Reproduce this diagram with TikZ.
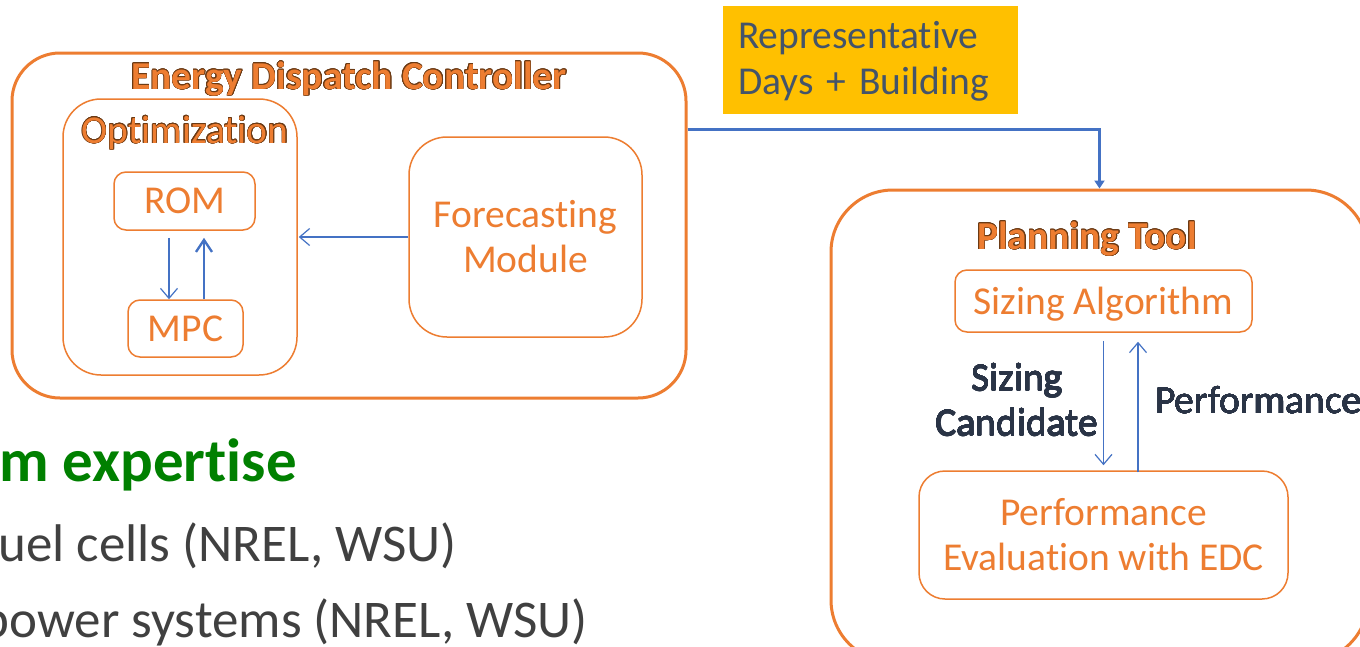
\documentclass[tikz,border=0pt]{standalone}
\usepackage{fontspec}
\setmainfont{Carlito}[Ligatures=NoCommon]
\usepackage[copies]{contour}
\usetikzlibrary{arrows.meta}
\definecolor{orng}{HTML}{ED7D31}
\definecolor{blu}{HTML}{4472C4}
\definecolor{yel}{HTML}{FFC000}
\definecolor{slate}{HTML}{44546A}
\definecolor{navy}{HTML}{2A3446}
\definecolor{grn}{HTML}{008000}
\definecolor{gry}{HTML}{404040}
\definecolor{outl}{HTML}{6B3A14}
\contourlength{0.5pt}
\tikzset{
  bigbox/.style={draw=orng, line width=3pt, rounded corners=48pt},
  midbox/.style={draw=orng, line width=1.5pt, rounded corners=38pt, text=orng, align=center},
  smallbox/.style={draw=orng, line width=1.5pt, rounded corners=12pt, text=orng, align=center},
  txt/.style={font=\fontsize{39.5}{45}\selectfont, inner sep=0pt},
  titletxt/.style={font=\fontsize{39.5}{45}\selectfont\bfseries, inner sep=0pt, text=orng},
  thinarrow/.style={draw=blu, line width=1.2pt, -{Straight Barb[length=10pt,width=17pt]}},
  thickarrow/.style={draw=blu, line width=2.4pt, -{Straight Barb[length=12pt,width=16pt]}},
  conn/.style={draw=blu, line width=3pt, -{Triangle[length=8pt,width=10pt]}},
}
\begin{document}
\begin{tikzpicture}[x=1pt,y=-1pt]
\useasboundingbox (0,0) rectangle (1360,646);
\clip (0,0) rectangle (1360,646);
\fill[white] (0,0) rectangle (1360,646);

% Energy Dispatch Controller
\node[bigbox, minimum width=674pt, minimum height=345pt] (edc) at (349,225.5) {};
\node[titletxt] (edct) at (349,79) {\contour{outl}{Energy Dispatch Controller}};

\node[midbox, minimum width=234pt, minimum height=276pt] (opt) at (180,237) {};
\node[txt, text=orng] (optt) at (185,133) {\contour{outl}{Optimization}};

\node[smallbox, txt, minimum width=141pt, minimum height=58pt] (rom) at (184.5,201) {ROM};
\node[smallbox, txt, minimum width=115pt, minimum height=57pt] (mpc) at (185.5,328.5) {MPC};

\node[midbox, txt, minimum width=233pt, minimum height=200pt] (fc) at (525.5,237) {Forecasting\\Module};

\draw[thinarrow] ([xshift=-15.5pt,yshift=-7pt]rom.south) -- ([xshift=-16.5pt]mpc.north);
\draw[thickarrow] ([xshift=18.5pt]mpc.north) -- ([xshift=19.5pt,yshift=-7pt]rom.south);
\draw[thinarrow] (fc.west) -- ([xshift=1pt]opt.east);

% Representative days box
\node[fill=yel, txt, font=\fontsize{39.5}{46}\selectfont, text=slate, align=left, text width=265pt, inner xsep=15pt, minimum height=108pt] (rep) at (870.5,60) {\rule{0pt}{30pt}Representative\\Days + Building};

% Planning Tool
\node[bigbox, rounded corners=62pt, minimum width=537pt, minimum height=472pt] (plan) at (1099.5,426) {};
\node[titletxt] (plant) at (1087,239) {\contour{outl}{Planning Tool}};

\node[smallbox, txt, text depth=0pt, minimum width=297pt, minimum height=62pt] (sz) at (1103.5,301) {Sizing Algorithm};
\node[smallbox, rounded corners=26pt, txt, minimum width=369pt, minimum height=128pt] (pe) at (1103.5,535) {Performance\\Evaluation with EDC};

\draw[thinarrow] ([yshift=-8pt]sz.south) -- ([yshift=5pt]pe.north);
\draw[thinarrow] ([xshift=34.5pt,yshift=-2pt]pe.north) -- ([xshift=34.5pt,yshift=-9pt]sz.south);

\begingroup\contourlength{0.15pt}
\node[txt, text=navy, align=center] (szl) at (1017,400) {\contour{navy}{Sizing}\\\contour{navy}{Candidate}};
\node[txt, text=navy, anchor=west] (pfl) at (1155,400) {\contour{navy}{Performance}};
\endgroup

\draw[conn] (edc.east |- 0,129) -| (plan.north);

% bottom-left text
\node[font=\fontsize{61}{72}\selectfont\bfseries, text=grn, inner sep=0pt, anchor=base east] (exp) at (297,481) {m expertise};
\node[font=\fontsize{53}{62}\selectfont, text=gry, inner sep=0pt, anchor=base east] (b1) at (457,561) {uel cells (NREL, WSU)};
\node[font=\fontsize{53}{62}\selectfont, text=gry, inner sep=0pt, anchor=base east] (b2) at (588,637) {power systems (NREL, WSU)};
\end{tikzpicture}
\end{document}
